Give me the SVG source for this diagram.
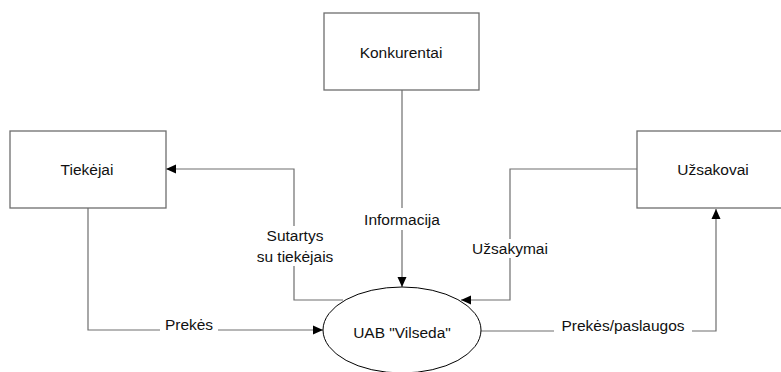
<svg xmlns="http://www.w3.org/2000/svg" width="781" height="372" viewBox="0 0 781 372">
<defs>
<style>
.box{fill:#fff;stroke:#6e6e6e;stroke-width:1.3}
.ell{fill:#fff;stroke:#000;stroke-width:1}
.ln{fill:none;stroke:#6e6e6e;stroke-width:1.2}
.t{font-family:"Liberation Sans",Arial,sans-serif;font-size:15.5px;fill:#111;text-anchor:middle}
.bg{fill:#fff}
</style>
<marker id="ah" viewBox="0 0 10 10" refX="10" refY="5" markerWidth="10" markerHeight="10" markerUnits="userSpaceOnUse" orient="auto">
<path d="M0,0.5 L10,5 L0,9.5 z" fill="#000"/>
</marker>
</defs>
<rect width="781" height="372" fill="#fff"/>
<g id="connectors">
<path class="ln" d="M402,90 V287" marker-end="url(#ah)"/>
<path class="ln" d="M343,300 H294 V169 H166" marker-end="url(#ah)"/>
<path class="ln" d="M637,169 H510 V300 H461" marker-end="url(#ah)"/>
<path class="ln" d="M88,208 V330 H323" marker-end="url(#ah)"/>
<path class="ln" d="M481,331 H716 V209" marker-end="url(#ah)"/>
</g>
<g id="konkurentai">
<rect class="box" x="324" y="13" width="155" height="77"/>
<text class="t" x="401" y="58">Konkurentai</text>
</g>
<g id="tiekejai">
<rect class="box" x="10" y="131" width="156" height="77"/>
<text class="t" x="87" y="175">Tiekėjai</text>
</g>
<g id="uzsakovai">
<rect class="box" x="637" y="131" width="150" height="77"/>
<text class="t" x="713" y="175">Užsakovai</text>
</g>
<g id="uab">
<ellipse class="ell" cx="402" cy="330" rx="79" ry="43"/>
<text class="t" x="402" y="338">UAB "Vilseda"</text>
</g>
<g id="labels">
<rect class="bg" x="360" y="208" width="84" height="22"/>
<text class="t" x="402" y="225">Informacija</text>
<rect class="bg" x="250" y="226" width="90" height="40"/>
<text class="t" x="295" y="241">Sutartys</text>
<text class="t" x="295" y="262">su tiekėjais</text>
<rect class="bg" x="466" y="239" width="88" height="19"/>
<text class="t" x="510" y="254">Užsakymai</text>
<rect class="bg" x="160" y="315" width="58" height="18"/>
<text class="t" x="189" y="330">Prekės</text>
<rect class="bg" x="554" y="316" width="138" height="18"/>
<text class="t" x="623" y="331">Prekės/paslaugos</text>
</g>
</svg>
